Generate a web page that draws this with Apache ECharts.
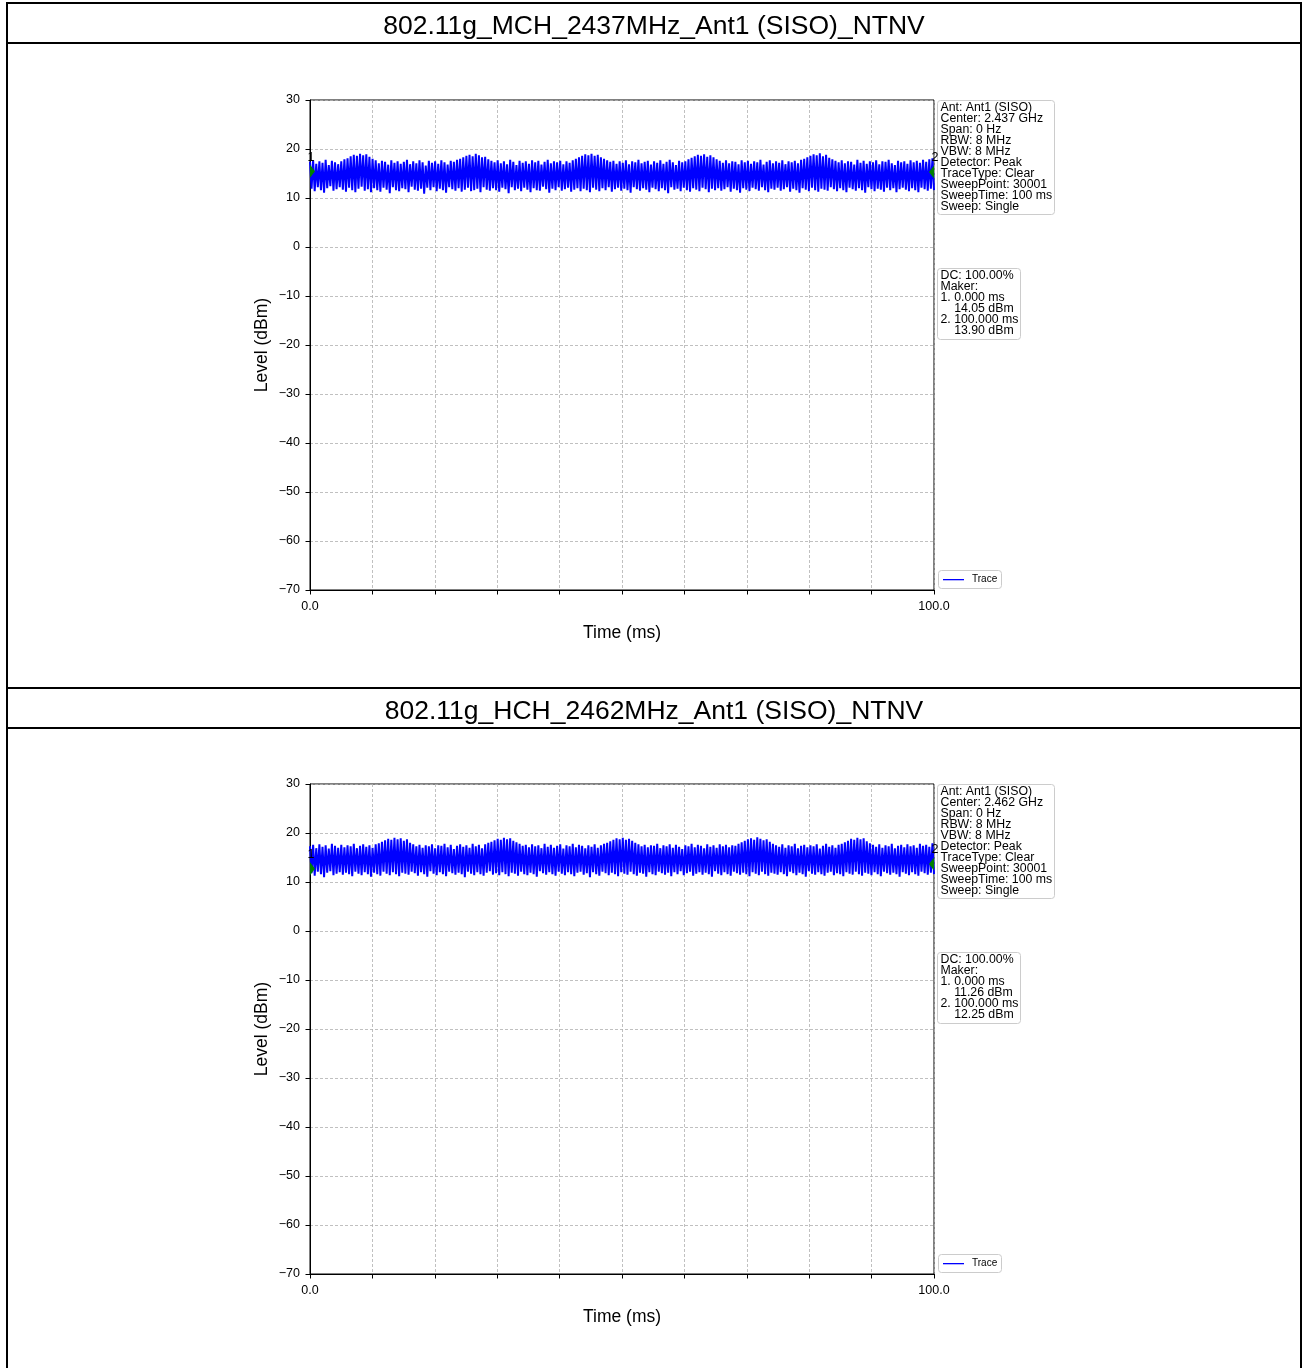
<!DOCTYPE html>
<html><head><meta charset="utf-8">
<script src="https://cdn.jsdelivr.net/npm/echarts@6/dist/echarts.min.js"></script>
<style>html,body{margin:0;padding:0;background:#fff}#c{width:1306px;height:1368px}</style>
</head><body><div id="c"></div>
<script>
// ---------- data ----------
const chartTitles = ['802.11g_MCH_2437MHz_Ant1 (SISO)_NTNV', '802.11g_HCH_2462MHz_Ant1 (SISO)_NTNV'];
const centers = ['2.437 GHz', '2.462 GHz'];
const sweepTimeMs = 100;
const yMin = -70, yMax = 30, yStep = 10;
const xMin = 0, xMax = 100, xStep = 10;
const xTickLabels = { 0: '0.0', 100: '100.0' };
const dutyCycle = ['100.00%', '100.00%'];
const markerTimesMCH = [0, 100];
const markerLevelsMCH = [14.05, 13.90];
const markerTimesHCH = [0, 100];
const markerLevelsHCH = [11.26, 12.25];

// decimated trace (alternating local peaks / troughs)
const levelMCH = [
17.4,11.9,17.7,11.4,17.0,12.2,17.5,11.6,17.2,11.1,17.8,12.0,16.7,12.4,17.6,11.5,17.3,11.8,16.9,12.2,
17.5,11.7,17.9,11.3,18.1,12.1,18.5,11.6,18.8,11.2,18.6,11.9,19.0,12.3,18.7,11.5,18.9,11.8,18.4,11.2,
18.0,12.0,17.7,11.6,17.1,11.3,17.6,12.1,17.4,11.7,16.8,11.0,17.7,12.2,17.2,11.6,17.5,11.4,17.0,12.0,
17.4,11.8,17.8,11.2,16.9,12.3,17.5,11.7,17.1,11.5,17.7,11.9,17.3,10.9,16.6,12.1,17.6,11.6,17.2,12.2,
17.5,11.4,17.0,11.9,17.7,11.6,17.3,11.1,16.8,12.2,17.6,11.8,17.4,11.5,17.8,12.0,18.0,11.3,18.3,11.7,
18.6,12.1,18.8,11.4,18.5,11.6,19.0,11.9,18.7,11.2,18.3,12.2,18.4,11.7,17.9,11.5,17.6,12.0,17.3,11.6,
17.7,11.3,17.1,12.1,17.5,11.8,16.9,11.0,17.8,12.2,17.4,11.6,16.7,11.9,17.6,11.4,17.2,12.1,17.5,11.7,
17.0,11.2,17.7,12.0,17.3,11.6,17.6,11.5,16.8,12.3,17.4,11.8,17.8,11.1,17.1,11.9,17.5,11.6,17.3,12.2,
17.6,11.5,16.9,11.8,17.5,12.1,17.2,11.3,17.7,11.7,18.0,12.0,18.3,11.4,18.6,11.9,18.9,11.6,18.7,11.2,
19.0,12.1,18.6,11.7,18.8,11.4,18.3,12.0,18.0,11.6,17.7,12.2,17.4,11.3,17.6,11.8,17.0,12.1,17.5,11.5,
17.2,11.9,17.7,11.6,16.9,11.1,17.5,12.2,17.3,11.8,17.8,11.5,17.1,12.0,17.4,11.7,17.6,11.2,16.8,12.1,
17.5,11.8,17.2,11.4,17.7,12.0,17.0,11.6,17.4,11.0,17.8,12.2,17.3,11.7,16.7,11.9,17.6,11.4,17.3,12.1,
17.5,11.6,17.9,11.3,18.2,12.0,18.5,11.7,18.8,11.4,18.6,12.1,18.9,11.8,18.4,11.2,18.7,11.9,18.3,11.6,
17.9,12.0,17.6,11.5,17.2,11.8,17.7,12.2,17.1,11.3,17.5,11.9,17.4,11.6,16.9,11.1,17.7,12.0,17.3,11.7,
17.6,11.4,17.0,12.1,17.5,11.8,17.3,11.5,17.8,12.2,16.8,11.6,17.4,11.2,17.7,11.9,17.1,11.7,17.5,12.1,
17.2,11.5,17.7,11.8,16.9,12.2,17.5,11.3,17.3,11.9,17.6,11.6,17.1,11.1,17.8,12.0,18.0,11.7,18.3,11.4,
18.6,12.1,18.9,11.6,18.7,11.3,19.1,11.9,18.5,11.7,18.8,11.5,18.2,12.2,17.9,11.8,17.6,11.4,17.3,12.0,
17.7,11.6,17.1,11.2,17.5,12.1,17.4,11.8,16.8,11.5,17.8,12.0,17.2,11.6,17.6,11.1,17.0,12.2,17.5,11.8,
17.3,11.4,17.7,11.9,16.9,11.7,17.5,11.3,17.4,12.1,17.8,11.6,17.1,12.0,16.7,11.2,17.6,11.8,17.3,12.1,
17.5,11.7,17.0,11.4,17.7,12.0,17.3,11.6,17.6,11.2,17.2,12.1,17.8,11.8,17.4,11.5,17.9,11.9,18.1,11.6
];
const levelHCH = [
17.3,11.8,17.6,11.3,16.9,12.1,17.7,11.6,17.2,11.0,17.5,11.9,16.8,12.2,17.8,11.4,17.4,11.7,17.0,12.0,
17.6,11.5,17.1,11.9,17.5,11.6,17.3,11.2,17.8,12.1,16.9,11.7,17.4,11.4,17.7,12.0,17.2,11.6,17.5,11.1,
17.0,11.9,17.7,11.6,17.9,11.3,18.2,12.1,18.5,11.7,18.8,11.4,18.6,12.0,19.0,11.6,18.7,11.2,18.9,11.9,
18.4,11.7,18.7,11.5,18.0,12.1,17.7,11.8,17.3,11.3,17.6,12.0,17.0,11.6,17.5,11.1,17.3,12.2,17.7,11.7,
16.9,11.4,17.5,12.0,17.4,11.6,17.8,11.2,17.1,12.1,17.6,11.8,16.7,11.5,17.4,11.9,17.7,11.6,17.2,11.0,
17.5,12.1,17.0,11.7,17.8,11.4,17.3,12.0,17.6,11.6,16.9,11.3,17.7,11.9,18.0,12.2,18.2,11.5,18.5,11.8,
18.8,11.4,18.6,12.0,19.0,11.6,18.7,11.2,18.9,11.9,18.4,11.7,18.1,11.3,17.8,12.1,17.4,11.6,17.6,11.4,
17.1,11.9,17.7,11.6,17.3,11.1,17.5,12.2,16.9,11.8,17.8,11.5,17.2,12.0,17.6,11.6,17.0,11.3,17.4,12.1,
17.7,11.7,16.8,11.4,17.5,12.0,17.3,11.6,17.8,11.2,17.1,11.9,17.6,12.1,17.4,11.5,16.9,11.8,17.5,11.0,
17.2,12.0,17.7,11.6,17.0,11.3,17.5,12.1,17.8,11.8,18.0,11.4,18.3,11.9,18.6,11.6,18.9,11.2,18.7,12.0,
19.0,11.7,18.6,11.5,18.8,12.1,18.4,11.6,18.0,11.3,17.7,11.9,17.3,11.7,17.6,11.1,17.1,12.0,17.5,11.6,
17.4,11.4,17.8,12.1,16.9,11.8,17.5,11.5,17.3,11.9,17.7,11.2,17.0,12.0,17.6,11.6,17.2,12.2,16.7,11.4,
17.5,11.8,17.3,12.1,17.8,11.3,17.1,11.7,17.6,12.0,17.4,11.5,16.9,11.9,17.7,11.6,17.2,11.1,17.5,12.2,
17.0,11.7,17.7,11.4,17.3,12.0,17.6,11.6,17.1,11.3,17.5,12.1,17.4,11.8,17.8,11.5,18.1,11.9,18.4,11.6,
18.7,11.2,18.9,12.0,18.6,11.7,19.1,11.4,18.8,12.1,18.5,11.6,18.7,11.3,18.2,11.9,17.8,11.7,17.5,11.5,
17.2,12.0,17.7,11.6,17.0,11.2,17.5,12.1,17.3,11.8,17.8,11.4,16.9,11.9,17.4,11.6,17.6,11.1,17.1,12.2,
17.5,11.7,17.3,11.5,17.7,12.0,16.8,11.6,17.4,11.3,17.8,11.9,17.2,12.1,17.5,11.4,17.0,11.8,17.6,11.6,
17.8,11.2,18.1,12.0,18.4,11.7,18.8,11.5,18.6,12.1,19.0,11.6,18.7,11.3,18.9,11.9,18.3,11.7,17.9,11.4,
17.6,12.0,17.2,11.6,17.7,11.2,17.0,12.1,17.5,11.8,17.3,11.5,17.8,11.9,16.9,11.6,17.4,11.1,17.6,12.0,
17.1,11.7,17.7,11.4,17.3,12.0,17.5,11.6,17.0,11.3,17.8,12.1,17.4,11.8,17.6,11.5,17.2,11.9,17.9,11.6
];

// ---------- layout ----------
const FONT = '"Liberation Sans", Arial, Helvetica, sans-serif';
const plots = [
  { top: 100, levels: levelMCH, mt: markerTimesMCH, ml: markerLevelsMCH, titleY: 27 },
  { top: 784, levels: levelHCH, mt: markerTimesHCH, ml: markerLevelsHCH, titleY: 712 }
];
const gridLeft = 310, gridW = 624, gridH = 490;

const fmtY = v => (v < 0 ? '\u2212' + Math.abs(v) : String(v));
const grids = [], xAxes = [], yAxes = [], series = [], graphics = [];

plots.forEach((p, k) => {
  grids.push({ left: gridLeft, top: p.top, width: gridW, height: gridH, show: true,
    borderColor: '#000', borderWidth: 1, backgroundColor: 'transparent', containLabel: false });
  xAxes.push({ type: 'value', gridIndex: k, min: xMin, max: xMax, interval: xStep,
    name: 'Time (ms)', nameLocation: 'middle', nameGap: 34,
    nameTextStyle: { fontFamily: FONT, fontSize: 17.5, color: '#000' },
    axisLine: { show: true, onZero: false, lineStyle: { color: '#000', width: 1 } },
    axisTick: { show: true, length: 4.5, lineStyle: { color: '#000', width: 1 } },
    axisLabel: { show: true, margin: 10, fontFamily: FONT, fontSize: 12.5, color: '#000',
      formatter: v => (xTickLabels[v] !== undefined ? xTickLabels[v] : ''), showMinLabel: true, showMaxLabel: true },
    splitLine: { show: true, lineStyle: { color: '#b0b0b0', width: 0.8, type: [3, 2] } } });
  yAxes.push({ type: 'value', gridIndex: k, min: yMin, max: yMax, interval: yStep,
    name: 'Level (dBm)', nameLocation: 'middle', nameGap: 39,
    nameTextStyle: { fontFamily: FONT, fontSize: 17.5, color: '#000' },
    axisLine: { show: true, onZero: false, lineStyle: { color: '#000', width: 1 } },
    axisTick: { show: true, length: 4.5, lineStyle: { color: '#000', width: 1 } },
    axisLabel: { show: true, margin: 10, fontFamily: FONT, fontSize: 12.5, color: '#000', formatter: fmtY },
    splitLine: { show: true, lineStyle: { color: '#b0b0b0', width: 0.8, type: [3, 2] } } });

  const n = p.levels.length;
  series.push({ type: 'line', name: 'Trace', xAxisIndex: k, yAxisIndex: k,
    data: p.levels.map((v, i) => [i * sweepTimeMs / (n - 1), v]),
    showSymbol: false, symbol: 'none', sampling: null, clip: true,
    lineStyle: { color: '#0000ff', width: 2 }, z: 3, animation: false });

  // markers (diamonds clipped by the plot area)
  series.push({ type: 'custom', xAxisIndex: k, yAxisIndex: k, clip: true, z: 4,
    data: p.mt.map((t, i) => [t, p.ml[i]]),
    renderItem: (params, api) => {
      const c = api.coord([api.value(0), api.value(1)]);
      const cx = c[0], cy = c[1] - 7;
      return { type: 'polygon', shape: { points: [[cx, cy - 6.5], [cx + 5, cy], [cx, cy + 6.5], [cx - 5, cy]] },
        style: { fill: '#008000' } };
    }, animation: false });
  // marker numbers
  series.push({ type: 'custom', xAxisIndex: k, yAxisIndex: k, clip: false, z: 5,
    data: p.mt.map((t, i) => [t, p.ml[i], i + 1]),
    renderItem: (params, api) => {
      const c = api.coord([api.value(0), api.value(1)]);
      return { type: 'text', x: c[0] + 1, y: c[1] - 21,
        style: { text: String(api.value(2)), fontFamily: FONT, fontSize: 12.5, fill: '#000', align: 'center', verticalAlign: 'middle' } };
    }, animation: false });

  // title
  graphics.push({ type: 'text', x: 654, y: p.titleY, style: { text: chartTitles[k], fontFamily: FONT, fontSize: 26.5,
    fill: '#000', align: 'center', verticalAlign: 'middle' } });

  // info box
  const infoLines = ['Ant: Ant1 (SISO)', 'Center: ' + centers[k], 'Span: 0 Hz', 'RBW: 8 MHz', 'VBW: 8 MHz',
    'Detector: Peak', 'TraceType: Clear', 'SweepPoint: 30001', 'SweepTime: ' + sweepTimeMs + ' ms', 'Sweep: Single'];
  graphics.push({ type: 'rect', shape: { x: 937.5, y: p.top + 0.5, width: 117, height: 114, r: 3 },
    style: { fill: '#fff', stroke: '#cccccc', lineWidth: 1 } });
  graphics.push({ type: 'text', x: 940.5, y: p.top + 2, style: { text: infoLines.join('\n'), fontFamily: FONT,
    fontSize: 12.3, lineHeight: 11, fill: '#000', verticalAlign: 'top' } });

  const mkLines = ['DC: ' + dutyCycle[k], 'Maker:'];
  p.mt.forEach((t, i) => { mkLines.push((i + 1) + '. ' + t.toFixed(3) + ' ms'); mkLines.push('    ' + p.ml[i].toFixed(2) + ' dBm'); });
  graphics.push({ type: 'rect', shape: { x: 937.5, y: p.top + 168.5, width: 83, height: 71, r: 3 },
    style: { fill: '#fff', stroke: '#cccccc', lineWidth: 1 } });
  graphics.push({ type: 'text', x: 940.5, y: p.top + 170, style: { text: mkLines.join('\n'), fontFamily: FONT,
    fontSize: 12.3, lineHeight: 11, fill: '#000', verticalAlign: 'top' } });

  // legend
  graphics.push({ type: 'rect', shape: { x: 938.5, y: p.top + 470.5, width: 63, height: 18, r: 3 },
    style: { fill: '#fff', stroke: '#cccccc', lineWidth: 1 } });
  graphics.push({ type: 'rect', shape: { x: 943, y: p.top + 479, width: 21, height: 1.3 },
    style: { fill: '#0000ff' }, z: 2 });
  graphics.push({ type: 'text', x: 972, y: p.top + 479.5, style: { text: 'Trace', fontFamily: FONT, fontSize: 10,
    fill: '#000', verticalAlign: 'middle' } });
});

// table borders
[[7, 3, 1301, 3], [7, 43, 1301, 43], [7, 688, 1301, 688], [7, 728, 1301, 728],
 [7, 2, 7, 1368], [1301, 2, 1301, 1368]].forEach(l => {
  graphics.push({ type: 'line', shape: { x1: l[0], y1: l[1], x2: l[2], y2: l[3] }, style: { stroke: '#000', lineWidth: 2 }, z: 10 });
});

const chart = echarts.init(document.getElementById('c'), null, { renderer: 'canvas' });
chart.setOption({
  animation: false,
  backgroundColor: '#fff',
  grid: grids, xAxis: xAxes, yAxis: yAxes, series: series,
  graphic: graphics
});
</script></body></html>
